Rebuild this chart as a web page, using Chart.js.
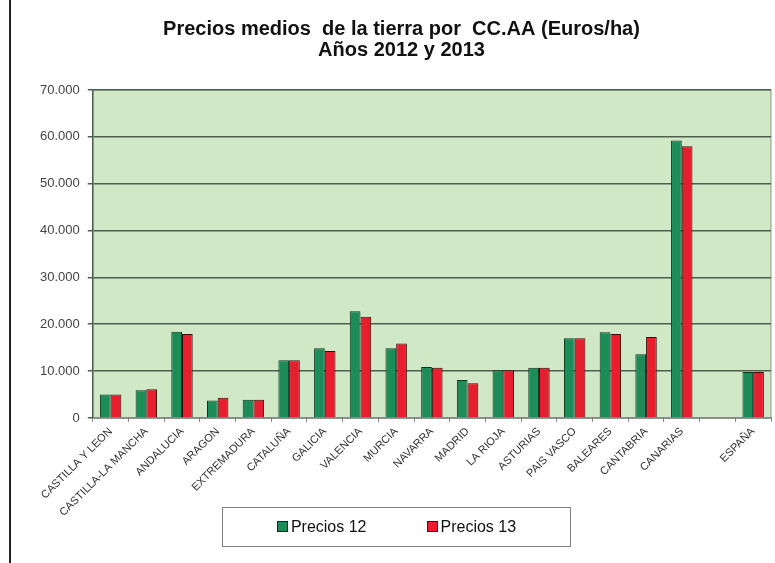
<!DOCTYPE html>
<html>
<head>
<meta charset="utf-8">
<script src="https://cdn.jsdelivr.net/npm/chart.js@4/dist/chart.umd.min.js"></script>
<style>
  html, body { margin: 0; padding: 0; background: #fff; }
  #wrap { position: relative; width: 775px; height: 563px; font-family: 'Liberation Sans', Arial, sans-serif; }
  #linea { position: absolute; left: 9px; top: 0; width: 2px; height: 563px; background: #222; }
  #leyenda { position: absolute; left: 222px; top: 507px; width: 347px; height: 38px; border: 1.5px solid #808080;
             display: flex; align-items: center; justify-content: center; gap: 60px; font-size: 16px; color: #111; }
  #leyenda span.caja { display: inline-block; width: 9px; height: 9px; border: 1px solid #222; margin-right: 3px; vertical-align: 0; }
</style>
</head>
<body>
<div id="wrap">
  <div id="linea"></div>
  <canvas id="grafico" width="775" height="563"></canvas>
  <div id="leyenda"></div>
</div>
<script>
const comunidades = ['CASTILLA Y LEON', 'CASTILLA-LA MANCHA', 'ANDALUCIA', 'ARAGON', 'EXTREMADURA', 'CATALUÑA', 'GALICIA', 'VALENCIA', 'MURCIA', 'NAVARRA', 'MADRID', 'LA RIOJA', 'ASTURIAS', 'PAIS VASCO', 'BALEARES', 'CANTABRIA', 'CANARIAS', '', 'ESPAÑA'];
const precios12 = [5000, 5900, 18400, 3700, 3900, 12300, 14900, 22800, 14900, 10900, 8100, 10200, 10700, 17000, 18300, 13600, 59200, null, 9800];
const precios13 = [5000, 6100, 17900, 4300, 3900, 12300, 14300, 21600, 15900, 10700, 7400, 10200, 10700, 17000, 17900, 17300, 58000, null, 9800];
const ticksY = [0, 10000, 20000, 30000, 40000, 50000, 60000, 70000];

const fuente = 'Liberation Sans, Arial, sans-serif';

// fondo verde del area de trazado
const fondoVerde = {
  id: 'fondoVerde',
  beforeDraw(chart) {
    const { ctx, chartArea: a } = chart;
    ctx.save();
    ctx.fillStyle = '#d0e8c6';
    ctx.fillRect(a.left, a.top, a.right - a.left, a.bottom - a.top);
    ctx.strokeStyle = '#8a9a8a';
    ctx.lineWidth = 1;
    ctx.strokeRect(a.left, a.top, a.right - a.left, a.bottom - a.top);
    ctx.restore();
  }
};

const grafico = new Chart(document.getElementById('grafico').getContext('2d'), {
  type: 'bar',
  data: {
    labels: comunidades,
    datasets: [
      {
        label: 'Precios 12',
        data: precios12,
        backgroundColor: '#1e8c58',
        borderColor: '#0d3520',
        borderWidth: 1
      },
      {
        label: 'Precios 13',
        data: precios13,
        backgroundColor: '#e61e2e',
        borderColor: '#3a0a0e',
        borderWidth: 1
      }
    ]
  },
  options: {
    responsive: false,
    animation: false,
    layout: { padding: { left: 32, right: 4, top: 19, bottom: 41 } },
    datasets: { bar: { categoryPercentage: 0.6, barPercentage: 1 } },
    plugins: {
      title: {
        display: true,
        text: ['Precios medios  de la tierra por  CC.AA (Euros/ha)', 'Años 2012 y 2013'],
        font: { family: fuente, size: 20, weight: 'bold', lineHeight: 1.05 },
        color: '#111',
        padding: { top: 0, bottom: 29 }
      },
      legend: { display: false },
      tooltip: { enabled: false }
    },
    scales: {
      x: {
        grid: { display: true, drawOnChartArea: false, tickLength: 4, color: '#888' },
        border: { color: '#888' },
        ticks: {
          maxRotation: 45,
          minRotation: 45,
          autoSkip: false,
          color: '#333',
          font: { family: fuente, size: 11 }
        }
      },
      y: {
        min: 0,
        max: 70000,
        afterBuildTicks(axis) { axis.ticks = ticksY.map(v => ({ value: v })); },
        grid: { color: '#4f5f4f', lineWidth: 1.5, tickLength: 5 },
        border: { color: '#4f5f4f', width: 1.5 },
        ticks: {
          color: '#444',
          padding: 8,
          font: { family: fuente, size: 13 },
          callback: v => v === 0 ? '0' : v.toLocaleString('es-ES').replace(/\s/g, '.')
        }
      }
    }
  },
  plugins: [fondoVerde]
});

// leyenda en html a partir de las series
const leyenda = document.getElementById('leyenda');
grafico.data.datasets.forEach(ds => {
  const item = document.createElement('div');
  item.innerHTML = `<span class="caja" style="background:${ds.backgroundColor}"></span>${ds.label}`;
  leyenda.appendChild(item);
});
</script>
</body>
</html>
